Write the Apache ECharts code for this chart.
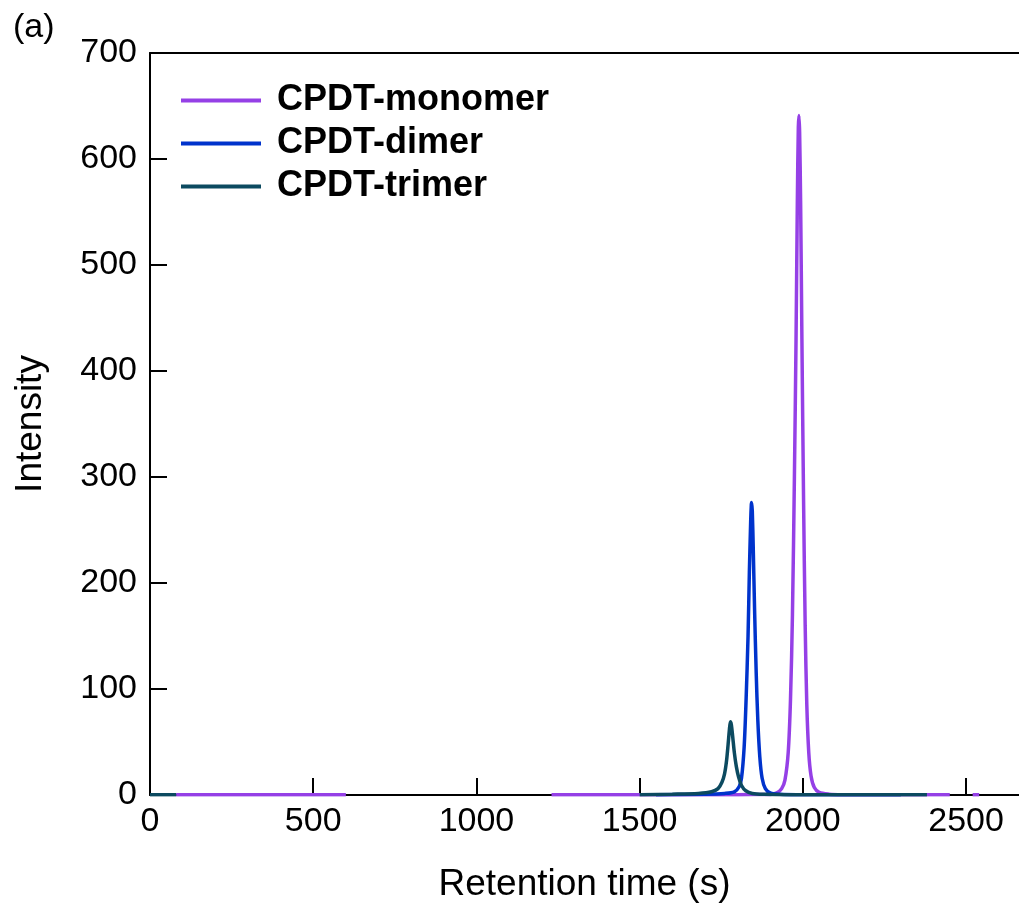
<!DOCTYPE html>
<html>
<head>
<meta charset="utf-8">
<script src="https://cdn.jsdelivr.net/npm/echarts@6/dist/echarts.min.js"></script>
<style>
html,body{margin:0;padding:0;background:#fff;}
#chart{width:1019px;height:904px;}
</style>
</head>
<body>
<div id="chart"></div>
<script>
// Series names
const seriesNames = ['CPDT-monomer', 'CPDT-dimer', 'CPDT-trimer'];
// x-axis ticks (s)
const xTicks = [0, 500, 1000, 1500, 2000, 2500];
const yTicks = [0, 100, 200, 300, 400, 500, 600, 700];

// [retention time (s), intensity]; '-' marks a gap in the trace
const monomer = [
  [80, 0.3], [200, 0.2], [350, 0.3], [500, 0.2], [600, 0.3], [900, '-'],
  [1230, 0.3], [1400, 0.2], [1600, 0.3], [1750, 0.3], [1850, 0.4], [1900, 0.5],
  [1920, 2], [1935, 6], [1945, 14], [1955, 40], [1962, 90], [1968, 170],
  [1974, 300], [1979, 430], [1983, 560], [1986, 630], [1988, 641], [1990, 625],
  [1993, 560], [1997, 430], [2002, 280], [2007, 160], [2012, 85], [2018, 40],
  [2025, 18], [2035, 7], [2050, 2.5], [2080, 0.8], [2120, 0.3], [2250, 0.2],
  [2450, 0.2], [2490, '-'], [2520, 0.2], [2540, 0.2]
];
const dimer = [
  [1550, 0.3], [1700, 0.8], [1760, 1.5], [1790, 3], [1805, 8], [1812, 16],
  [1820, 45], [1826, 90], [1832, 150], [1836, 210], [1840, 258], [1842, 274],
  [1843, 276], [1845, 268], [1848, 232], [1852, 175], [1857, 115], [1862, 70],
  [1868, 36], [1875, 16], [1885, 6], [1900, 2], [1930, 0.7], [1980, 0.3],
  [2150, 0.2], [2300, 0.2]
];
const trimer = [
  [0, 0.3], [80, 0.3], [300, '-'],
  [1500, 0.3], [1600, 0.8], [1680, 1.5], [1720, 3], [1740, 6], [1752, 12],
  [1760, 20], [1766, 32], [1771, 48], [1775, 62], [1778, 69], [1781, 66],
  [1785, 55], [1790, 40], [1796, 27], [1803, 17], [1812, 9], [1825, 4],
  [1845, 1.5], [1880, 0.6], [1950, 0.3], [2150, 0.2], [2380, 0.2]
];

const colors = ['#9540E6', '#0033CC', '#0C4A60'];
const font = 'Arial, "Liberation Sans", sans-serif';

const chart = echarts.init(document.getElementById('chart'), null, {renderer: 'canvas'});
const mk = (name, data, color) => ({
  name: name, type: 'line', data: data, showSymbol: false, symbol: 'none',
  smooth: 0.3, connectNulls: false, xAxisIndex: 0,
  lineStyle: {color: color, width: 3.5}, itemStyle: {color: color}
});
const axisX = {
  type: 'value', min: 0, max: 2662, interval: 500,
  splitLine: {show: false}
};
chart.setOption({
  animation: false,
  backgroundColor: '#fff',
  grid: {left: 150, top: 53, bottom: 109, right: 0, outerBoundsMode: 'none', containLabel: false},
  legend: {
    orient: 'vertical', left: 176, top: 77, itemWidth: 80, itemHeight: 4,
    itemGap: 6, icon: 'rect',
    data: seriesNames,
    textStyle: {fontFamily: font, fontWeight: 'bold', fontSize: 36, color: '#000',
                lineHeight: 37, padding: [0, 0, 0, 11]}
  },
  graphic: [{type: 'text', left: 13, top: 11,
             style: {text: '(a)', fontFamily: font, fontSize: 34, fill: '#000'}}],
  xAxis: [Object.assign({}, axisX, {
    position: 'bottom',
    name: 'Retention time (s)', nameLocation: 'middle', nameGap: 71,
    nameTextStyle: {fontFamily: font, fontSize: 37, color: '#000'},
    axisLine: {show: true, onZero: false, lineStyle: {color: '#000', width: 2}},
    axisTick: {show: true, inside: true, length: 17, lineStyle: {color: '#000', width: 2}},
    axisLabel: {fontFamily: font, fontSize: 34, color: '#000', margin: 10,
                showMaxLabel: false,
                formatter: v => xTicks.includes(v) ? String(v) : ''}
  }), Object.assign({}, axisX, {
    position: 'top',
    axisLine: {show: true, onZero: false, lineStyle: {color: '#000', width: 2}},
    axisTick: {show: false}, axisLabel: {show: false}
  })],
  yAxis: {
    type: 'value', min: 0, max: 700, interval: 100,
    name: 'Intensity', nameLocation: 'middle', nameGap: 101,
    nameTextStyle: {fontFamily: font, fontSize: 37, color: '#000'},
    axisLine: {show: true, lineStyle: {color: '#000', width: 2}},
    axisTick: {show: true, inside: true, length: 17, lineStyle: {color: '#000', width: 2}},
    axisLabel: {fontFamily: font, fontSize: 34, color: '#000', margin: 13,
                formatter: v => yTicks.includes(v) ? String(v) : ''},
    splitLine: {show: false}
  },
  series: [
    mk(seriesNames[0], monomer, colors[0]),
    mk(seriesNames[1], dimer, colors[1]),
    mk(seriesNames[2], trimer, colors[2])
  ]
});
</script>
</body>
</html>
